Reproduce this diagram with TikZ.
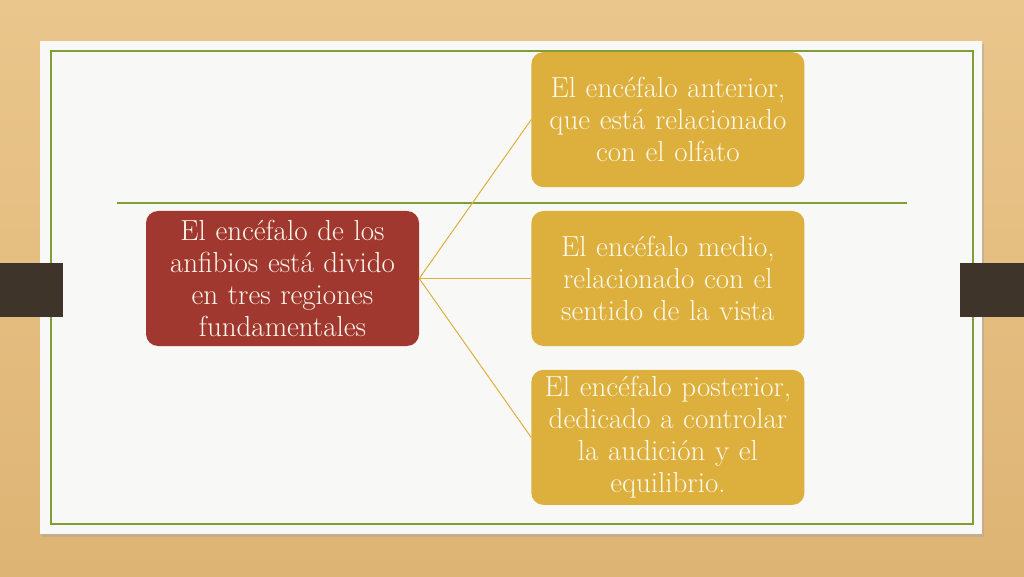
\documentclass[tikz,border=0pt]{standalone}
\usepackage{tikz}
\usetikzlibrary{positioning}

\definecolor{wood}{RGB}{222,180,116}
\definecolor{woodlight}{RGB}{234,198,140}
\definecolor{card}{RGB}{248,248,246}
\definecolor{leaf}{RGB}{128,158,56}
\definecolor{brick}{RGB}{161,56,48}
\definecolor{mustard}{RGB}{221,176,62}
\definecolor{strap}{RGB}{62,52,42}
\definecolor{cream}{RGB}{252,248,236}

\begin{document}
\begin{tikzpicture}[x=1pt, y=1pt]
  \tikzstyle{region}=[rectangle, rounded corners = 12pt, fill = mustard, text = cream, minimum width = 273pt, minimum height = 135pt, text width = 268pt, inner sep = 2pt, align = center, font = \fontsize{29}{32}\selectfont, node distance = 23.5pt]
  \tikzstyle{main}=[region, fill = brick]
  \tikzstyle{connect}=[draw = mustard, line width = 1pt]
  \tikzstyle{frame}=[draw = leaf, line width = 1.6pt]

  \useasboundingbox (0,0) rectangle (1024,576);
  \fill[bottom color = wood, top color = woodlight] (0,0) rectangle (1024,576);
  \fill[black!35, opacity = 0.5] (42,39) rectangle (984,532);
  \fill[card] (40,42) rectangle (982,535);
  \draw[frame] (51,52) rectangle (973,525);
  \draw[frame] (117,373) -- (907,373);

  \fill[strap] (0,259) rectangle (63,313);
  \fill[strap] (960,259) rectangle (1024,313);

  \node[main] (brain) at (282.5,297.5) {El encéfalo de los\\ anfibios está divido\\ en tres regiones\\ fundamentales};
  \node[region] (middle) [right = 112pt of brain] {El encéfalo medio,\\ relacionado con el\\ sentido de la vista};
  \node[region] (front) [above = of middle] {El encéfalo anterior,\\ que está relacionado\\ con el olfato};
  \node[region] (back) [below = of middle] {El encéfalo posterior,\\ dedicado a controlar\\ la audición y el\\ equilibrio.};

  \path (brain.east) edge [connect] (front.west)
        (brain.east) edge [connect] (middle.west)
        (brain.east) edge [connect] (back.west);

\end{tikzpicture}
\end{document}
